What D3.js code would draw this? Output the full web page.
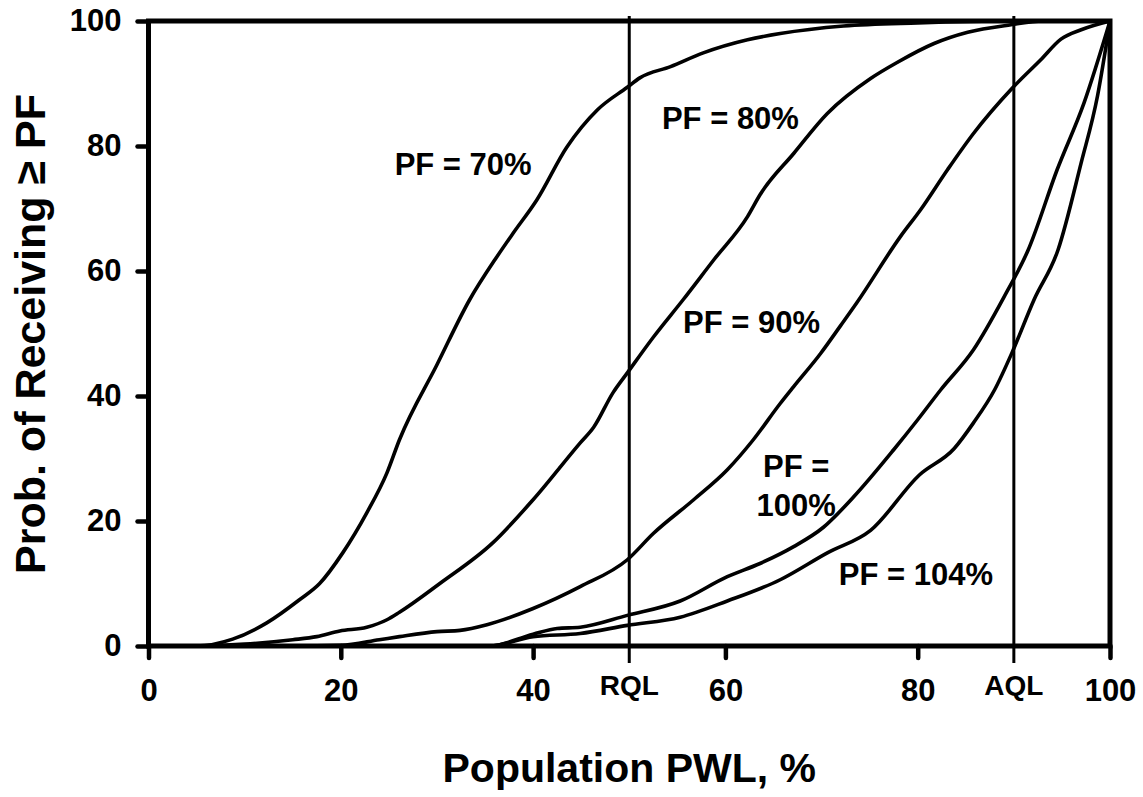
<!DOCTYPE html>
<html>
<head>
<meta charset="utf-8">
<script src="https://cdn.jsdelivr.net/npm/d3@7"></script>
<style>
  html, body { margin: 0; padding: 0; background: #fff; }
  svg { display: block; }
  text { font-family: Arial, "Liberation Sans", Helvetica, sans-serif; font-weight: bold; fill: #000; }
</style>
</head>
<body>
<svg id="chart" width="1143" height="797"></svg>
<script>
// ---- Data ----
const xTicks = [0, 20, 40, 60, 80, 100];
const yTicks = [0, 20, 40, 60, 80, 100];
const refLines = [{ name: "RQL", x: 50 }, { name: "AQL", x: 90 }];

const pf70X = [0, 5, 8.75, 12.3, 15.7, 17.8, 20.2, 22.7, 24.8, 26.1, 30, 33.4, 36.2, 37.9, 40.4, 43.5, 46.7, 49.8, 51.1, 54.3, 57.7, 62.3, 65.7, 72.3, 80, 90, 100];
const pf70Y = [0, 0, 1.1, 3.7, 7.4, 10, 14.9, 21.3, 27.7, 33, 45, 55.4, 62.2, 66, 71.4, 79.8, 85.8, 89.4, 90.9, 92.7, 94.9, 97, 98, 99.2, 99.7, 100, 100];

const pf80X = [0, 5, 10, 15, 17.5, 19.9, 22.7, 24.8, 26.1, 30.3, 35.8, 40, 44.9, 46.3, 48.3, 49.8, 52.5, 55.6, 58.8, 62.3, 63.6, 67.1, 70.6, 75.1, 77.9, 81.7, 85.2, 89.7, 93, 100];
const pf80Y = [0, 0, 0.3, 1, 1.5, 2.4, 3, 4.2, 5.4, 10, 16.5, 23.4, 32.5, 35, 40.5, 43.7, 49.4, 55.4, 61.8, 68.7, 72.2, 78.8, 85.2, 90.8, 93.4, 96.4, 98.2, 99.4, 100, 100];

const pf90X = [0, 15, 20, 24, 26.1, 30, 32.4, 35.2, 40, 44.9, 49.8, 52.5, 56.7, 60.2, 62.9, 65.7, 67.1, 69.9, 72, 73.7, 78.2, 80.3, 83.1, 85.8, 89.8, 92.8, 94.9, 97, 100];
const pf90Y = [0, 0, 0.1, 1, 1.5, 2.3, 2.5, 3.4, 6, 9.5, 13.8, 18, 23.4, 28.2, 33, 38.8, 41.5, 46.8, 51.3, 55, 65.5, 69.8, 76.2, 82, 89.2, 93.8, 97.1, 98.6, 100];

const pf100X = [0, 35.5, 40, 42.5, 44.9, 49.8, 55.3, 60.2, 63.6, 67.1, 70.2, 73.3, 77.5, 80, 82.4, 85.8, 89, 91.5, 94.5, 97.3, 100];
const pf100Y = [0, 0, 1.9, 2.8, 3, 4.9, 7.2, 11.1, 13.2, 15.9, 19, 23.8, 31.4, 36.2, 41, 47.4, 55.9, 63.4, 76.2, 86.9, 100];

const pf104X = [0, 35.5, 40, 44.9, 49.8, 55.3, 60.2, 65.7, 70.6, 75.1, 80.2, 83.8, 85.8, 88, 89.8, 92.1, 94.6, 97, 98.7, 100];
const pf104Y = [0, 0, 1.5, 2, 3.3, 4.6, 7.2, 10.6, 14.9, 18.5, 27.4, 31.6, 35.7, 41, 46.9, 55.4, 63.4, 77.3, 88, 100];

const series = [
  { name: "PF = 70%", xs: pf70X, ys: pf70Y },
  { name: "PF = 80%", xs: pf80X, ys: pf80Y },
  { name: "PF = 90%", xs: pf90X, ys: pf90Y },
  { name: "PF = 100%", xs: pf100X, ys: pf100Y },
  { name: "PF = 104%", xs: pf104X, ys: pf104Y }
];

// curve labels: text lines, anchor x (data), baseline y (data)
const curveLabels = [
  { lines: ["PF = 70%"], x: 25.6, y: 75.4 },
  { lines: ["PF = 80%"], x: 53.4, y: 82.8 },
  { lines: ["PF = 90%"], x: 55.6, y: 50.1 },
  { lines: ["PF =", "100%"], x: 63.2, y: 27.0 },
  { lines: ["PF = 104%"], x: 71.8, y: 9.8 }
];

const xTitle = "Population PWL, %";
const yTitle = "Prob. of Receiving \u2265 PF";

// ---- Layout ----
const svg = d3.select("#chart");
const x = d3.scaleLinear().domain([0, 100]).range([148.5, 1110]);
const y = d3.scaleLinear().domain([0, 100]).range([646, 21]);

const line = d3.line()
  .x(d => x(d[0]))
  .y(d => y(d[1]))
  .curve(d3.curveMonotoneX);

// curves
svg.append("g").selectAll("path")
  .data(series)
  .join("path")
  .attr("d", s => line(s.xs.map((v, i) => [v, s.ys[i]])))
  .attr("fill", "none")
  .attr("stroke", "#000")
  .attr("stroke-width", 3.6)
  .attr("stroke-linejoin", "round");

// RQL / AQL lines
svg.append("g").selectAll("line")
  .data(refLines)
  .join("line")
  .attr("x1", d => x(d.x)).attr("x2", d => x(d.x))
  .attr("y1", 16).attr("y2", 663)
  .attr("stroke", "#000")
  .attr("stroke-width", 3);

svg.append("g").selectAll("text")
  .data(refLines)
  .join("text")
  .attr("x", d => x(d.x))
  .attr("y", 695)
  .attr("text-anchor", "middle")
  .attr("font-size", 28)
  .text(d => d.name);

// frame
svg.append("rect")
  .attr("x", x(0)).attr("y", y(100))
  .attr("width", x(100) - x(0)).attr("height", y(0) - y(100))
  .attr("fill", "none")
  .attr("stroke", "#000")
  .attr("stroke-width", 5);

// axes
const xAxis = svg.append("g")
  .attr("transform", `translate(0,${y(0)})`)
  .call(d3.axisBottom(x).tickValues(xTicks).tickSize(12).tickPadding(21).tickFormat(d3.format("d")));
const yAxis = svg.append("g")
  .attr("transform", `translate(${x(0)},0)`)
  .call(d3.axisLeft(y).tickValues(yTicks).tickSize(11).tickPadding(16).tickFormat(d3.format("d")));

[xAxis, yAxis].forEach(g => {
  g.select(".domain").remove();
  g.selectAll(".tick line").attr("stroke", "#000").attr("stroke-width", 4.5).attr("stroke-linecap", "round");
  g.selectAll(".tick text").attr("font-size", 31).attr("font-family", "Arial, 'Liberation Sans', sans-serif").attr("font-weight", "bold").attr("fill", "#000");
});
xAxis.selectAll(".tick text").attr("dy", "0.71em");

// curve labels
const lab = svg.append("g").selectAll("text")
  .data(curveLabels)
  .join("text")
  .attr("x", d => x(d.x))
  .attr("y", d => y(d.y))
  .attr("font-size", 31)
  .attr("text-anchor", d => d.lines.length > 1 ? "middle" : "start");
lab.each(function(d) {
  const t = d3.select(this);
  d.lines.forEach((s, i) => {
    t.append("tspan").attr("x", d.lines.length > 1 ? x(d.x) + 40 : x(d.x)).attr("dy", i === 0 ? 0 : 39).text(s);
  });
});

// axis titles
svg.append("text")
  .attr("x", (x(0) + x(100)) / 2)
  .attr("y", 782)
  .attr("text-anchor", "middle")
  .attr("font-size", 41)
  .text(xTitle);

svg.append("text")
  .attr("transform", `translate(45,${334}) rotate(-90)`)
  .attr("text-anchor", "middle")
  .attr("font-size", 43)
  .text(yTitle);
</script>
</body>
</html>
